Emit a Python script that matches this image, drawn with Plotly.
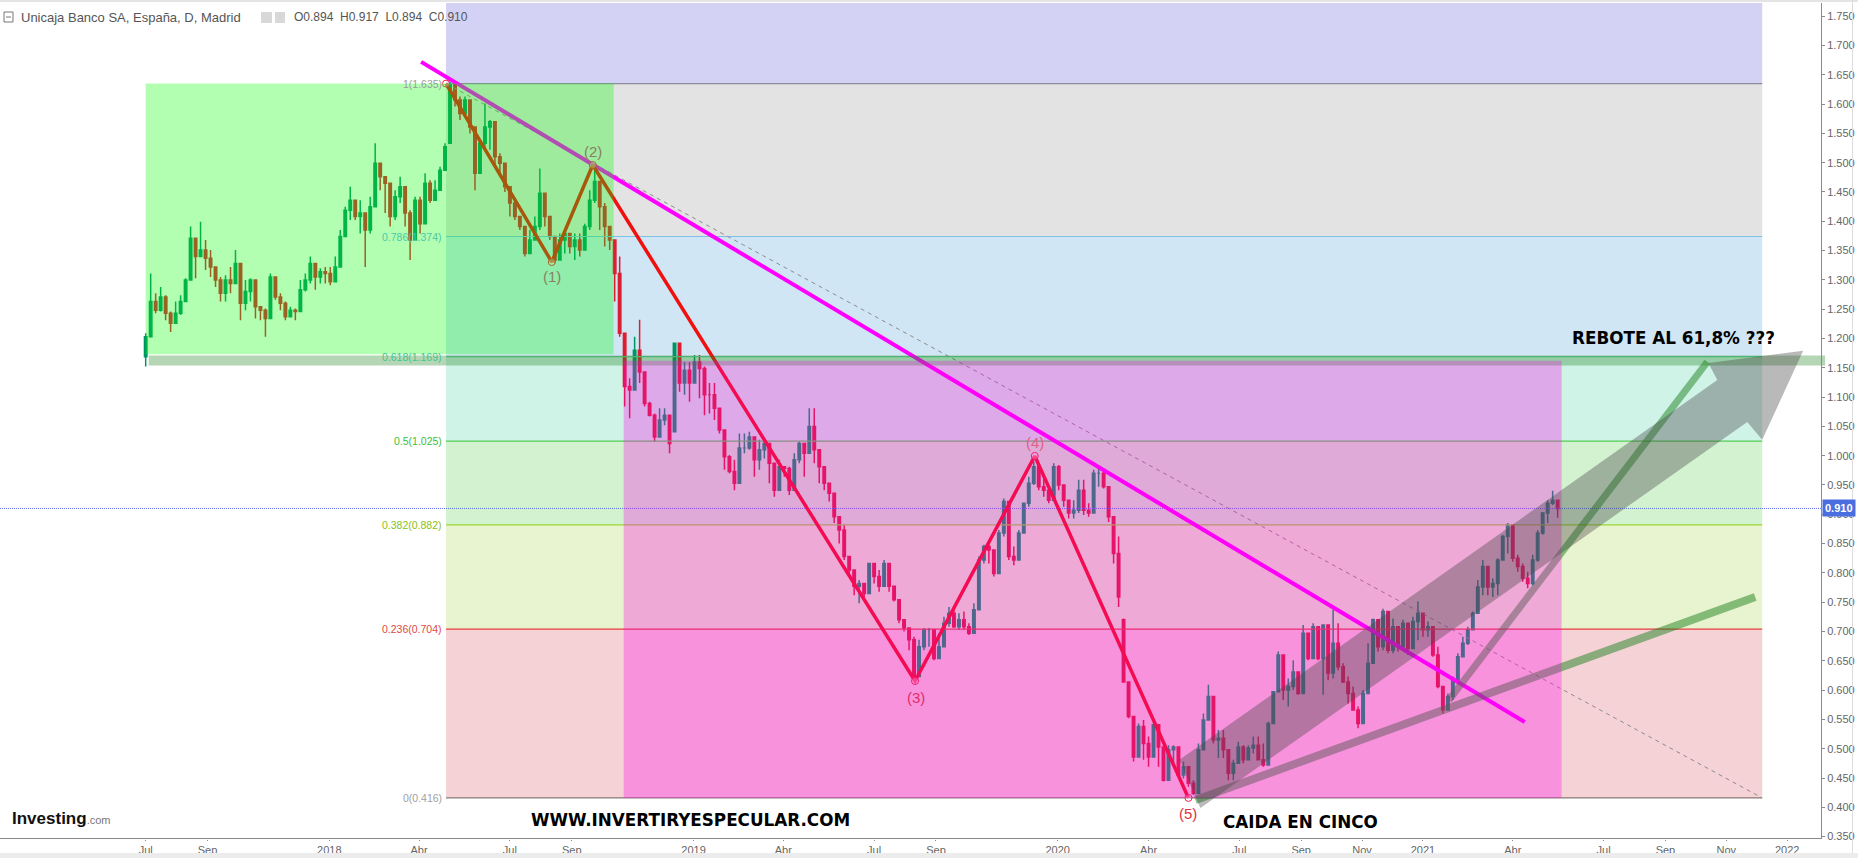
import pandas as pd
import plotly.graph_objects as go

# ---------- OHLC, one candle every 5 days ----------
first_date = "2017-07-01"
opens = [
 1.169,1.203,1.263,1.248,1.271,1.243,1.226,1.243,1.263,1.300,1.371,1.340,1.351,1.337,1.322,1.300,1.277,1.300,1.294,1.328,
 1.260,1.280,1.300,1.254,1.248,1.234,1.305,1.271,1.260,1.237,1.248,1.246,1.283,1.300,1.328,1.305,1.314,1.311,1.297,1.322,
 1.374,1.419,1.436,1.408,1.414,1.385,1.425,1.499,1.476,1.465,1.408,1.442,1.459,1.414,1.368,1.436,1.396,1.465,1.436,1.453,
 1.487,1.533,
 1.633,1.607,1.584,1.607,1.561,1.482,1.533,1.561,1.570,1.510,1.499,1.459,1.431,1.408,1.391,1.345,1.368,1.391,1.448,1.408,
 1.374,1.334,1.368,1.379,1.357,1.368,1.351,1.391,1.436,1.468,1.425,1.391,1.368,1.311,1.209,1.118,1.112,1.180,1.143,1.089,
 1.069,1.032,1.061,1.069,1.041,1.192,1.124,1.146,1.124,1.160,1.149,1.104,1.104,1.081,1.044,.998,.973,.953,1.013,1.013,
 1.032,.993,1.010,1.021,.987,.941,.981,.978,.941,.993,1.021,1.004,1.050,1.010,.981,.953,
 .936,.896,.873,.828,.805,.777,.782,.765,.816,.794,.777,.816,.777,.754,.720,.706,.686,.623,.674,.703,
 .703,.654,.674,.714,.731,.708,.720,.708,.697,.737,.822,.845,.839,.799,.868,.922,.828,.822,.868,.919,
 .953,.981,.947,.941,.924,.981,.950,.924,.902,.907,.941,.907,.902,.970,.970,.947,.896,.833,
 .720,.614,.555,.486,.538,.509,.486,.541,.503,.446,.498,.503,.455,.469,.441,.424,.498,.549,.589,.515,
 .518,.498,.458,.475,.503,.481,.501,.506,.481,.472,.543,.597,.660,.600,.606,.631,.594,.697,.654,.708,
 .654,.711,.629,.680,.640,.614,.594,
 .566,.543,.594,.646,.720,.674,.734,.668,.708,.674,.714,.671,.717,.731,.703,.708,.660,.606,.566,.589,
 .617,.657,.680,.703,.731,.776,.811,.776,.782,.822,.862,.882,.825,.811,.791,.782,.822,.868,.902,.919,
 .924,
]
closes = [
 1.203,1.263,1.248,1.271,1.243,1.226,1.243,1.263,1.300,1.371,1.340,1.351,1.337,1.322,1.300,1.277,1.300,1.294,1.328,1.260,
 1.280,1.300,1.254,1.248,1.234,1.305,1.271,1.260,1.237,1.248,1.246,1.283,1.300,1.328,1.305,1.314,1.311,1.297,1.322,1.374,
 1.419,1.436,1.408,1.414,1.385,1.425,1.499,1.476,1.465,1.408,1.442,1.459,1.414,1.368,1.436,1.396,1.465,1.436,1.453,1.487,
 1.527,1.633,
 1.607,1.584,1.607,1.561,1.482,1.533,1.561,1.570,1.510,1.499,1.459,1.431,1.408,1.391,1.345,1.368,1.391,1.448,1.408,1.374,
 1.334,1.368,1.379,1.357,1.368,1.351,1.391,1.436,1.468,1.425,1.391,1.368,1.311,1.209,1.118,1.112,1.180,1.143,1.089,1.069,
 1.032,1.061,1.069,1.021,1.192,1.124,1.146,1.124,1.160,1.149,1.104,1.104,1.081,1.044,.998,.973,.953,1.013,1.013,1.032,
 .993,1.010,1.021,.987,.941,.981,.978,.941,.993,1.021,1.004,1.050,1.010,.981,.953,.936,
 .896,.873,.828,.805,.777,.782,.765,.816,.794,.777,.816,.777,.754,.720,.706,.686,.623,.674,.703,.703,
 .654,.674,.714,.731,.708,.720,.708,.697,.737,.822,.845,.839,.799,.868,.922,.828,.822,.868,.919,.953,
 .981,.947,.941,.924,.981,.950,.924,.902,.907,.941,.907,.902,.970,.970,.947,.896,.833,.759,
 .614,.555,.486,.538,.509,.486,.541,.503,.446,.498,.503,.455,.469,.441,.424,.498,.549,.589,.515,.518,
 .498,.458,.475,.503,.481,.501,.506,.481,.472,.543,.597,.660,.600,.606,.631,.594,.697,.654,.708,.654,
 .711,.629,.680,.640,.614,.594,.566,
 .543,.594,.646,.720,.674,.734,.668,.708,.674,.714,.671,.717,.731,.703,.708,.660,.606,.566,.589,.617,
 .657,.680,.703,.731,.776,.811,.776,.782,.822,.862,.882,.825,.811,.791,.782,.822,.868,.902,.919,.924,
 .910,
]
highs = [
 1.209,1.311,1.277,1.288,1.274,1.246,1.263,1.274,1.303,1.391,1.368,1.399,1.368,1.351,1.322,1.305,1.308,1.322,1.351,1.322,
 1.300,1.303,1.300,1.251,1.251,1.311,1.305,1.277,1.263,1.254,1.251,1.300,1.311,1.340,1.328,1.320,1.322,1.322,1.340,1.385,
 1.425,1.459,1.422,1.436,1.414,1.442,1.533,1.499,1.476,1.448,1.453,1.476,1.442,1.419,1.442,1.442,1.482,1.470,1.470,1.493,
 1.533,1.638,
 1.633,1.613,1.613,1.607,1.561,1.539,1.601,1.573,1.556,1.516,1.499,1.459,1.431,1.408,1.391,1.385,1.408,1.490,1.442,1.408,
 1.374,1.379,1.385,1.379,1.379,1.379,1.396,1.453,1.493,1.453,1.431,1.391,1.368,1.340,1.203,1.132,1.203,1.232,1.124,1.092,
 1.072,1.081,1.081,1.069,1.192,1.192,1.160,1.160,1.172,1.172,1.152,1.124,1.124,1.081,1.044,1.001,.993,1.038,1.038,1.041,
 1.027,1.027,1.030,1.021,.981,.993,.981,.981,1.004,1.024,1.021,1.081,1.081,1.010,.981,.953,
 .913,.896,.882,.828,.805,.788,.782,.816,.816,.805,.822,.816,.777,.754,.720,.706,.691,.686,.706,.706,
 .703,.691,.725,.742,.737,.731,.734,.714,.748,.828,.848,.850,.833,.873,.927,.873,.845,.873,.919,.964,
 .990,.987,.964,.947,.987,.984,.950,.924,.924,.959,.959,.919,.976,.978,.973,.947,.873,.862,
 .722,.614,.555,.543,.549,.521,.543,.529,.503,.506,.506,.484,.478,.469,.446,.509,.560,.609,.589,.532,
 .532,.498,.481,.512,.506,.506,.521,.521,.509,.546,.597,.666,.640,.620,.651,.620,.711,.680,.714,.683,
 .711,.657,.737,.714,.646,.623,.606,
 .572,.600,.680,.722,.720,.739,.722,.722,.708,.720,.697,.725,.751,.731,.717,.708,.674,.606,.594,.623,
 .663,.691,.708,.734,.788,.822,.805,.791,.825,.865,.885,.865,.831,.816,.802,.831,.873,.904,.924,.940,
 .925,
]
lows = [
 1.152,1.214,1.243,1.246,1.231,1.211,1.229,1.240,1.274,1.311,1.303,1.340,1.317,1.305,1.288,1.263,1.263,1.277,1.294,1.231,
 1.248,1.263,1.234,1.231,1.203,1.271,1.266,1.248,1.231,1.237,1.231,1.260,1.280,1.294,1.283,1.294,1.294,1.291,1.300,1.322,
 1.379,1.402,1.402,1.379,1.322,1.379,1.450,1.453,1.414,1.391,1.402,1.431,1.391,1.334,1.391,1.379,1.431,1.431,1.436,1.453,
 1.510,1.573,
 1.596,1.573,1.579,1.550,1.453,1.493,1.522,1.522,1.493,1.482,1.450,1.408,1.402,1.385,1.340,1.345,1.368,1.385,1.391,1.368,
 1.328,1.334,1.345,1.345,1.334,1.340,1.368,1.385,1.431,1.385,1.357,1.351,1.263,1.203,1.084,1.064,1.132,1.124,1.084,1.067,
 1.024,1.041,1.052,1.004,1.041,1.109,1.104,1.092,1.124,1.098,1.069,1.072,1.061,1.038,.976,.970,.941,.964,1.004,1.010,
 .964,.976,.995,.953,.930,.959,.964,.933,.961,.987,.964,1.004,.987,.953,.941,.922,
 .885,.850,.822,.794,.762,.748,.759,.774,.782,.768,.788,.768,.751,.714,.700,.668,.617,.640,.668,.674,
 .651,.654,.691,.708,.706,.703,.703,.694,.714,.759,.816,.816,.794,.816,.862,.822,.813,.839,.873,.913,
 .950,.941,.930,.919,.936,.941,.913,.893,.893,.902,.899,.896,.913,.947,.944,.887,.816,.742,
 .614,.552,.478,.498,.481,.469,.486,.469,.444,.446,.475,.452,.449,.435,.421,.430,.498,.549,.509,.484,
 .484,.446,.446,.475,.475,.486,.492,.481,.469,.523,.555,.614,.583,.572,.600,.592,.626,.651,.654,.651,
 .592,.617,.620,.634,.612,.577,.566,
 .535,.546,.600,.646,.666,.668,.663,.663,.666,.668,.660,.680,.685,.691,.691,.657,.603,.560,.566,.583,
 .634,.663,.677,.708,.731,.762,.762,.759,.762,.822,.833,.819,.802,.785,.774,.779,.819,.865,.885,.916,
 .894,
]

# ---------- Fibonacci retracement ----------
fib_levels = [1.635, 1.374, 1.169, 1.025, 0.882, 0.704, 0.416]
fib_labels = ["1(1.635)", "0.786(1.374)", "0.618(1.169)", "0.5(1.025)", "0.382(0.882)", "0.236(0.704)", "0(0.416)"]
fib_line_colors = ["#8c8c9c", "#7fc0e6", "#66cc99", "#55cc55", "#99d633", "#e63c3c", "#8a7a78"]
fib_text_colors = ["#9a9a9a", "#4cc8a8", "#3cc88c", "#3cc03c", "#8cc020", "#e04848", "#a0a0a0"]
fib_fill_top = 1.7725
fib_fills = ["#d3d2f5", "#e3e3e3", "#d0e6f5", "#d0f3e8", "#d2f2d0", "#e8f3cf", "#f5d2d6"]
fib_start, fib_end = "2018-04-28", "2021-12-07"

# ---------- Elliott waves ----------
wave_dates = ["2018-04-28", "2018-08-12", "2018-09-22", "2019-08-11", "2019-12-09", "2020-05-11"]
wave_prices = [1.635, 1.3305, 1.496, 0.6155, 0.9995, 0.416]
wave_label_text = ["(1)", "(2)", "(3)", "(4)", "(5)"]
wave_label_dates = ["2018-08-12", "2018-09-22", "2019-08-12", "2019-12-09", "2020-05-11"]
wave_label_prices = [1.305, 1.519, 0.588, 1.023, 0.390]
wave_label_colors = ["#8a8060", "#8a8060", "#e0306a", "#e06088", "#e03040"]

# ---------- drawn lines and zones ----------
trend_dates, trend_prices = ["2018-04-03", "2021-04-13"], [1.672, 0.5456]
dash_dates, dash_prices = ["2018-04-28", "2021-12-07"], [1.635, 0.416]
support_dates, support_prices = ["2020-05-18", "2021-11-30"], [0.4125, 0.759]
bounce_dates, bounce_prices = ["2021-01-27", "2021-10-13"], [0.583, 1.160]
band_dates, band_prices = ["2017-07-04", "2022-02-08"], [1.1625, 1.1625]
green_zone = dict(x0="2017-07-01", x1="2018-10-13", y0=1.173, y1=1.635)
pink_zone = dict(x0="2018-10-23", x1="2021-05-20", y0=0.416, y1=1.162)
arrow_dates = ["2020-05-23", "2020-05-02", "2021-10-23", "2021-10-14", "2022-01-17", "2021-12-07", "2021-11-22"]
arrow_prices = [0.399, 0.481, 1.129, 1.158, 1.179, 1.027, 1.0575]

last_price = 0.910
price_line_dates = ["2017-02-05", "2022-02-04"]

x_range = ["2017-02-05", "2022-03-13"]
y_range = [0.3459, 1.7725]
y_ticks = [0.35,0.40,0.45,0.50,0.55,0.60,0.65,0.70,0.75,0.80,0.85,0.90,0.95,1.00,1.05,1.10,1.15,1.20,1.25,1.30,1.35,1.40,1.45,1.50,1.55,1.60,1.65,1.70,1.75]
x_tick_dates = ["2017-07-01","2017-09-01","2018-01-01","2018-04-01","2018-07-01","2018-09-01","2019-01-01","2019-04-01","2019-07-01","2019-09-01","2020-01-01","2020-04-01","2020-07-01","2020-09-01","2020-11-01","2021-01-01","2021-04-01","2021-07-01","2021-09-01","2021-11-01","2022-01-01"]
x_tick_text = ["Jul","Sep","2018","Abr","Jul","Sep","2019","Abr","Jul","Sep","2020","Abr","Jul","Sep","Nov","2021","Abr","Jul","Sep","Nov","2022"]

FONT = "Liberation Sans"
dates = pd.date_range(first_date, periods=len(closes), freq="5D")

fig = go.Figure()
fig.add_trace(go.Candlestick(
    x=dates, open=opens, high=highs, low=lows, close=closes,
    increasing=dict(line=dict(color="#009664", width=1.5), fillcolor="#009664"),
    decreasing=dict(line=dict(color="#dc1e32", width=1.5), fillcolor="#dc1e32"),
    hoverinfo="skip", showlegend=False))

def line(x, y, color, width, dash=None):
    fig.add_trace(go.Scatter(x=x, y=y, mode="lines", hoverinfo="skip", showlegend=False,
                             line=dict(color=color, width=width, dash=dash)))

for lev, col in zip(fib_levels, fib_line_colors):
    line([fib_start, fib_end], [lev, lev], col, 1.2)
line(price_line_dates, [last_price, last_price], "#5a6ee8", 1, "1px,1px")
line(dash_dates, dash_prices, "#8c8c8c", 1, "4px,4px")
line(trend_dates, trend_prices, "#ff00ff", 4)
line(wave_dates, wave_prices, "#f01010", 3.5)
line(band_dates, band_prices, "rgba(30,130,30,0.33)", 10)
line(support_dates, support_prices, "rgba(30,130,30,0.5)", 8)
line(bounce_dates, bounce_prices, "rgba(30,130,30,0.5)", 7)
fig.add_trace(go.Scatter(x=wave_dates, y=wave_prices, mode="markers", hoverinfo="skip", showlegend=False,
                         marker=dict(size=7, color="rgba(255,255,255,0.35)", line=dict(color="#f02040", width=1))))

shapes = []
tops = [fib_fill_top] + fib_levels[:-1]
for top, bot, col in zip(tops, fib_levels, fib_fills):
    shapes.append(dict(type="rect", xref="x", yref="y", x0=fib_start, x1=fib_end, y0=bot, y1=top,
                       fillcolor=col, line_width=0, layer="below"))
shapes.append(dict(type="rect", xref="x", yref="y", **green_zone, fillcolor="rgba(0,255,0,0.30)", line_width=0, layer="above"))
shapes.append(dict(type="rect", xref="x", yref="y", **pink_zone, fillcolor="rgba(255,0,235,0.30)", line_width=0, layer="above"))
path = "M " + " L ".join(f"{d} {p}" for d, p in zip(arrow_dates, arrow_prices)) + " Z"
shapes.append(dict(type="path", xref="x", yref="y", path=path, fillcolor="rgba(70,70,70,0.38)", line_width=0, layer="above"))

px_w, plot_h = 1858.0, 836.0
def px(v): return v / px_w
def py(v): return (839.0 - v) / plot_h
def chrome(x0, x1, y0, y1, fill, line_col=None):
    shapes.append(dict(type="rect", xref="paper", yref="paper", x0=px(x0), x1=px(x1), y0=py(y0), y1=py(y1),
                       fillcolor=fill, line=dict(color=line_col or fill, width=1 if line_col else 0), layer="above"))
chrome(0, 1821, 838, 839, "#8a8a8a")        # time axis line
chrome(0, 1858, 853, 858, "#ececec")        # bottom strip
chrome(0, 1858, 0, 2, "#e4e4e4")            # top strip
chrome(1852, 1853, 0, 853, "#dcdcdc")       # right edge
chrome(4, 13, 12, 22, "#ffffff", "#777777") # collapse box
chrome(6, 11, 16.5, 17.5, "#777777")
chrome(261, 272, 12, 23, "#d8d8d8")
chrome(275, 285, 12, 23, "#d8d8d8")

ann = []
for lev, txt, col in zip(fib_levels, fib_labels, fib_text_colors):
    ann.append(dict(x=fib_start, y=lev, xref="x", yref="y", text=txt, showarrow=False, xanchor="right", xshift=-2,
                    font=dict(family=FONT, size=10.5, color=col)))
for d, p, t, c in zip(wave_label_dates, wave_label_prices, wave_label_text, wave_label_colors):
    ann.append(dict(x=d, y=p, xref="x", yref="y", text=t, showarrow=False, font=dict(family=FONT, size=15, color=c)))
ann.append(dict(x="2021-09-09", y=1.2, xref="x", yref="y", text="<b>REBOTE AL 61,8% ???</b>", showarrow=False,
                font=dict(family="DejaVu Sans", size=16.8, color="black")))
ann.append(dict(x="2020-08-31", y=0.375, xref="x", yref="y", text="<b>CAIDA EN CINCO</b>", showarrow=False,
                font=dict(family="DejaVu Sans", size=16.8, color="black")))
ann.append(dict(x="2018-12-29", y=0.378, xref="x", yref="y", text="<b>WWW.INVERTIRYESPECULAR.COM</b>", showarrow=False,
                font=dict(family="DejaVu Sans", size=16.8, color="black")))
ann.append(dict(x=px(19), y=py(17), xref="paper", yref="paper", xanchor="left", yanchor="middle", showarrow=False,
                text="Unicaja Banco SA, España, D, Madrid", font=dict(family=FONT, size=13, color="#555555")))
ann.append(dict(x=px(292), y=py(17), xref="paper", yref="paper", xanchor="left", yanchor="middle", showarrow=False,
                text="O0.894  H0.917  L0.894  C0.910", font=dict(family=FONT, size=12, color="#555555")))
ann.append(dict(x=px(10), y=py(818), xref="paper", yref="paper", xanchor="left", yanchor="middle", showarrow=False,
                text="<b>Investing</b><span style='font-size:11px;color:#777'>.com</span>",
                font=dict(family=FONT, size=17, color="#111111")))
ann.append(dict(x=px(1822), y=last_price, xref="paper", yref="y", xanchor="left", showarrow=False,
                text="<b>0.910</b>", bgcolor="#4a6ee0", borderpad=2,
                font=dict(family=FONT, size=11, color="white")))

fig.update_layout(
    width=1858, height=858, autosize=False,
    margin=dict(l=0, r=0, t=3, b=19),
    paper_bgcolor="white", plot_bgcolor="white",
    shapes=shapes, annotations=ann, showlegend=False,
    xaxis=dict(type="date", range=x_range, rangeslider=dict(visible=False), showgrid=False, zeroline=False,
               showline=False, tickmode="array", tickvals=x_tick_dates, ticktext=x_tick_text, ticks="outside",
               ticklen=1, tickcolor="#8a8a8a", tickangle=0,
               tickfont=dict(family=FONT, size=11, color="#666666")),
    yaxis=dict(range=y_range, anchor="free", position=1821 / 1858, side="right", showgrid=False, zeroline=False,
               showline=True, linecolor="#8a8a8a", linewidth=1, tickmode="array", tickvals=y_ticks,
               ticktext=[f"{v:.3f}" for v in y_ticks], ticks="outside", ticklen=3, tickcolor="#8a8a8a",
               tickfont=dict(family=FONT, size=11, color="#666666")),
)

fig.write_html("out.html", config=dict(displayModeBar=False),
               post_script="document.body.style.margin='0';document.documentElement.style.overflow='hidden';")
